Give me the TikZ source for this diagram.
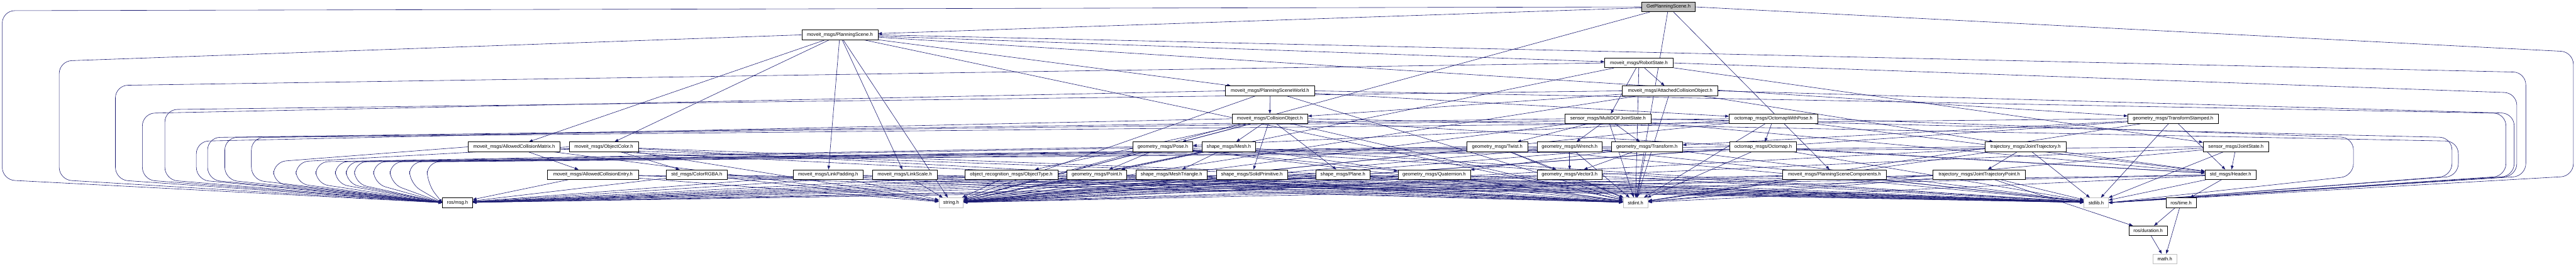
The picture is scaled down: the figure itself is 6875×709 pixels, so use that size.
\documentclass[tikz,border=0pt]{standalone}
\usepackage{fontspec}
\setmainfont{Liberation Sans}
\usetikzlibrary{arrows.meta, calc, backgrounds}
\definecolor{edgeblue}{HTML}{191970}
\definecolor{grey75}{HTML}{BFBFBF}
\tikzset{
  file/.style={draw=black, fill=white, line width=0.9pt, inner sep=0pt,
    minimum height=19.5pt, font=\fontsize{9.6}{11}\selectfont},
  sysfile/.style={file, draw=grey75},
  rootfile/.style={file, fill=grey75},
  edge/.style={draw=edgeblue, line width=0.75pt, -{Triangle[length=7.5pt,width=5.5pt]}},
}
\begin{document}
\begin{tikzpicture}[x=0.75pt, y=0.75pt]
			\useasboundingbox (0,0) rectangle (6875,-709);
			
			% Rank 0 and 1
			\node[rootfile, minimum width=106.5pt] (gps) at (4453,-18.5) {GetPlanningScene.h};
			\node[file, minimum width=152.25pt] (ps) at (2241.5,-93) {moveit\_msgs/PlanningScene.h};
			
			% Rank 2 and 3
			\node[file, minimum width=136.5pt] (rstate) at (4374,-168) {moveit\_msgs/RobotState.h};
			\node[file, minimum width=177.75pt] (psw) at (3389.5,-242.5) {moveit\_msgs/PlanningSceneWorld.h};
			\node[file, minimum width=191.25pt] (aco) at (4457.5,-242.5) {moveit\_msgs/AttachedCollisionObject.h};
			
			% Rank 4
			\node[file, minimum width=151.5pt] (cobj) at (3389,-317) {moveit\_msgs/CollisionObject.h};
			\node[file, minimum width=173.25pt] (mdof) at (4291.5,-317) {sensor\_msgs/MultiDOFJointState.h};
			\node[file, minimum width=177pt] (owp) at (4733,-317) {octomap\_msgs/OctomapWithPose.h};
			\node[file, minimum width=180.75pt] (tfs) at (5799.5,-317) {geometry\_msgs/TransformStamped.h};
			
			% Rank 5
			\node[file, minimum width=184.5pt] (acm) at (1372,-392) {moveit\_msgs/AllowedCollisionMatrix.h};
			\node[file, minimum width=138.75pt] (ocolor) at (1611.5,-392) {moveit\_msgs/ObjectColor.h};
			\node[file, minimum width=119.25pt] (pose) at (3103.5,-392) {geometry\_msgs/Pose.h};
			\node[file, minimum width=107.25pt] (mesh) at (3279.5,-392) {shape\_msgs/Mesh.h};
			\node[file, minimum width=121.5pt] (twist) at (3996,-392) {geometry\_msgs/Twist.h};
			\node[file, minimum width=130.5pt] (wrench) at (4189,-392) {geometry\_msgs/Wrench.h};
			\node[file, minimum width=141.75pt] (tf) at (4395.5,-392) {geometry\_msgs/Transform.h};
			\node[file, minimum width=134.25pt] (octomap) at (4705.5,-392) {octomap\_msgs/Octomap.h};
			\node[file, minimum width=162pt] (jtraj) at (5406,-392) {trajectory\_msgs/JointTrajectory.h};
			\node[file, minimum width=131.25pt] (jstate) at (5967.5,-392) {sensor\_msgs/JointState.h};
			
			% Rank 6
			\node[file, minimum width=182.25pt] (ace) at (1582.5,-466) {moveit\_msgs/AllowedCollisionEntry.h};
			\node[file, minimum width=122.25pt] (rgba) at (1859.5,-466) {std\_msgs/ColorRGBA.h};
			\node[file, minimum width=139.5pt] (lpad) at (2210,-466) {moveit\_msgs/LinkPadding.h};
			\node[file, minimum width=129.75pt] (lscale) at (2414.5,-466) {moveit\_msgs/LinkScale.h};
			\node[file, minimum width=186pt] (otype) at (2699,-466) {object\_recognition\_msgs/ObjectType.h};
			\node[file, minimum width=119.25pt] (point) at (2927.5,-466) {geometry\_msgs/Point.h};
			\node[file, minimum width=141.75pt] (mtri) at (3126.5,-466) {shape\_msgs/MeshTriangle.h};
			\node[file, minimum width=142.5pt] (solid) at (3341,-466) {shape\_msgs/SolidPrimitive.h};
			\node[file, minimum width=108pt] (plane) at (3584,-466) {shape\_msgs/Plane.h};
			\node[file, minimum width=144.75pt] (quat) at (3827.5,-466) {geometry\_msgs/Quaternion.h};
			\node[file, minimum width=130.5pt] (vec3) at (4189,-466) {geometry\_msgs/Vector3.h};
			\node[file, minimum width=207pt] (pscomp) at (4896,-466) {moveit\_msgs/PlanningSceneComponents.h};
			\node[file, minimum width=185.25pt] (jtpoint) at (5282.5,-466) {trajectory\_msgs/JointTrajectoryPoint.h};
			\node[file, minimum width=102pt] (header) at (5953,-466) {std\_msgs/Header.h};
			
			% Rank 7 to 9
			\node[file, minimum width=60pt] (rosmsg) at (1221,-541) {ros/msg.h};
			\node[sysfile, minimum width=48.75pt] (stringh) at (2538.5,-541) {string.h};
			\node[sysfile, minimum width=49.5pt] (stdinth) at (4365,-541) {stdint.h};
			\node[sysfile, minimum width=48.75pt] (stdlibh) at (5594.5,-541) {stdlib.h};
			\node[file, minimum width=60pt] (rostime) at (5821,-541) {ros/time.h};
			\node[file, minimum width=76.5pt] (rosdur) at (5733,-616) {ros/duration.h};
			\node[sysfile, minimum width=47.25pt] (mathh) at (5777.5,-691) {math.h};
			
			\begin{scope}[on background layer]
				% Includes between the message headers
				\foreach \a/\b in {gps/pscomp, gps/ps,
					ps/rstate, ps/tfs, ps/acm, ps/lpad, ps/lscale, ps/ocolor, ps/psw,
					rstate/jstate, rstate/mdof, rstate/aco,
					aco/cobj, aco/jtraj, psw/cobj, psw/owp,
					cobj/header, cobj/otype, cobj/solid, cobj/pose, cobj/mesh, cobj/plane,
					mdof/header, mdof/tf, mdof/twist, mdof/wrench,
					owp/header, owp/pose, owp/octomap, tfs/header, tfs/tf,
					acm/ace, ocolor/rgba, pose/point, pose/quat, mesh/mtri, mesh/point,
					twist/vec3, wrench/vec3, tf/vec3, tf/quat, octomap/header,
					jtraj/header, jtraj/jtpoint, jstate/header, jtpoint/rosdur,
					header/rostime, rostime/rosdur, rostime/mathh, rosdur/mathh}
				\draw[edge] (\a) -- (\b);
				
				% Every message pulls in string.h and stdint.h
				\foreach \t in {gps, ps, rstate, psw, aco, cobj, mdof, owp, tfs,
					acm, ocolor, pose, mesh, twist, wrench, tf, octomap, jtraj, jstate,
					ace, rgba, lpad, lscale, otype, point, mtri, solid, plane, quat,
					vec3, pscomp, jtpoint, header}
				{
					\draw[edge] (\t) -- (stringh);
					\draw[edge] (\t) -- (stdinth);
				}
				
				% ros/msg.h: upper ranks loop round the left side
				\foreach \t/\xl/\d/\yb in {gps/6/10/480, ps/158/70/480, rstate/308/60/480,
					psw/380/60/480, aco/440/50/480, cobj/524/60/480, mdof/554/50/480,
					owp/600/50/480, tfs/671/50/480, acm/730/40/490, ocolor/790/40/490,
					pose/843/40/490, mesh/895/40/490, twist/924/40/490, wrench/946/40/490,
					tf/997/40/490, octomap/1041/40/490, jtraj/1093/40/490, jstate/1140/40/490}
				\draw[edge, rounded corners=25pt] (\t.west) -- ($(\t.west -| \xl,0)+(0,-\d)$)
					-- (\xl,-\yb) -- (rosmsg.west);
				\foreach \t in {ace, rgba, lpad, lscale, otype, point, mtri, solid, plane,
					quat, vec3, pscomp, jtpoint, header}
				\draw[edge] (\t) -- (rosmsg);
				
				% stdlib.h: upper ranks loop round the right side
				\foreach \t/\xr/\d/\yb in {gps/6868/120/470, ps/6741/100/470,
					rstate/6717/80/470, aco/6710/60/470, psw/6688/60/470,
					cobj/6561/60/470, mdof/6544/50/470, owp/6281/50/470}
				\draw[edge, rounded corners=25pt] (\t.east) -- ($(\t.east -| \xr,0)+(0,-\d)$)
					-- (\xr,-\yb) -- (stdlibh.east);
				\foreach \t in {tfs, acm, ocolor, pose, mesh, twist, wrench, tf, octomap,
					jtraj, jstate, ace, rgba, lpad, lscale, otype, point, mtri, solid,
					plane, quat, vec3, pscomp, jtpoint, header}
				\draw[edge] (\t) -- (stdlibh);
			\end{scope}
			
		\end{tikzpicture}
\end{document}
